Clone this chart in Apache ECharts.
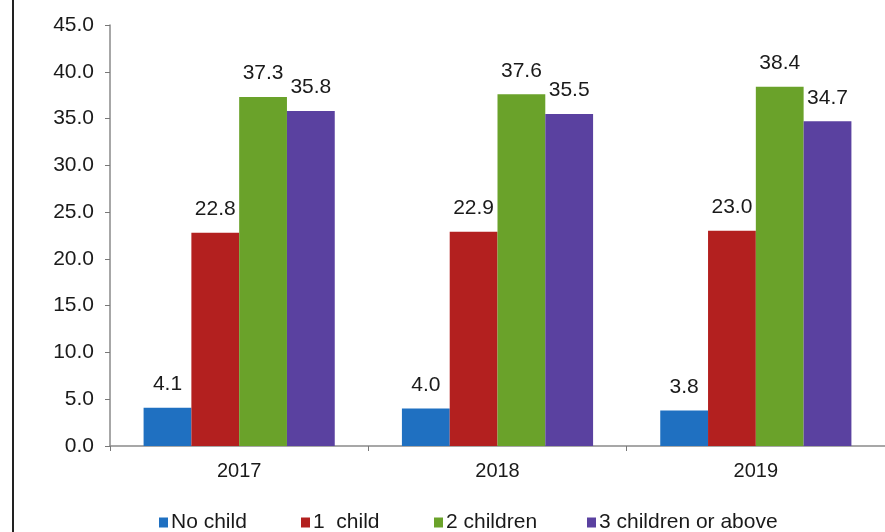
<!DOCTYPE html>
<html>
<head>
<meta charset="utf-8">
<script src="https://cdn.jsdelivr.net/npm/echarts@6/dist/echarts.min.js"></script>
<style>
  html, body { margin: 0; padding: 0; background: #fff; }
  #chart { width: 885px; height: 532px; }
</style>
</head>
<body>
<div id="chart"></div>
<script>
// Share of households by number of children (%)
const years = ['2017', '2018', '2019'];
const seriesNames = ['No child', '1  child', '2 children', '3 children or above'];
const noChild = [4.1, 4.0, 3.8];
const oneChild = [22.8, 22.9, 23.0];
const twoChildren = [37.3, 37.6, 38.4];
const threePlus = [35.8, 35.5, 34.7];
const yTicks = [0, 5, 10, 15, 20, 25, 30, 35, 40, 45];

const colors = ['#1f70c1', '#b3201f', '#6aa22a', '#5a41a0'];
const values = [noChild, oneChild, twoChildren, threePlus];
const legendLeft = [154, 296, 429, 582];
const FONT = '"Liberation Sans", Arial, sans-serif';

const chart = echarts.init(document.getElementById('chart'));
chart.setOption({
  animation: false,
  textStyle: { fontFamily: FONT },
  grid: { left: 110, top: 25, width: 781, bottom: 86, containLabel: false },
  xAxis: {
    type: 'category',
    data: years,
    axisLine: { lineStyle: { color: '#8a8a8a', width: 1.5 } },
    axisTick: { show: true, length: 5, alignWithLabel: false, lineStyle: { color: '#777' } },
    axisLabel: { color: '#1a1a1a', fontSize: 20, margin: 15, fontFamily: FONT }
  },
  yAxis: {
    type: 'value',
    min: yTicks[0],
    max: yTicks[yTicks.length - 1],
    interval: 5,
    axisLine: { show: true, lineStyle: { color: '#8a8a8a', width: 1.5 } },
    axisTick: { show: true, length: 5, lineStyle: { color: '#777' } },
    splitLine: { show: false },
    axisLabel: {
      color: '#1a1a1a', fontSize: 21, margin: 16, fontFamily: FONT,
      formatter: v => v.toFixed(1)
    }
  },
  legend: seriesNames.map((name, i) => ({
    data: [name],
    left: legendLeft[i],
    top: 507,
    icon: 'rect',
    itemWidth: 9,
    itemHeight: 10,
    itemGap: 0,
    textStyle: { color: '#1a1a1a', fontSize: 21, fontFamily: FONT, padding: [0, 0, 0, -2] }
  })),
  graphic: [{
    type: 'line',
    shape: { x1: 13, y1: 0, x2: 13, y2: 532 },
    style: { stroke: '#222', lineWidth: 2 }
  }],
  series: seriesNames.map((name, i) => ({
    name,
    type: 'bar',
    data: values[i],
    barGap: '0%',
    barCategoryGap: '26%',
    itemStyle: { color: colors[i] },
    label: {
      show: true,
      position: 'top',
      distance: 13,
      color: '#1a1a1a',
      fontSize: 21,
      fontFamily: FONT,
      formatter: p => p.value.toFixed(1)
    }
  }))
});
</script>
</body>
</html>
